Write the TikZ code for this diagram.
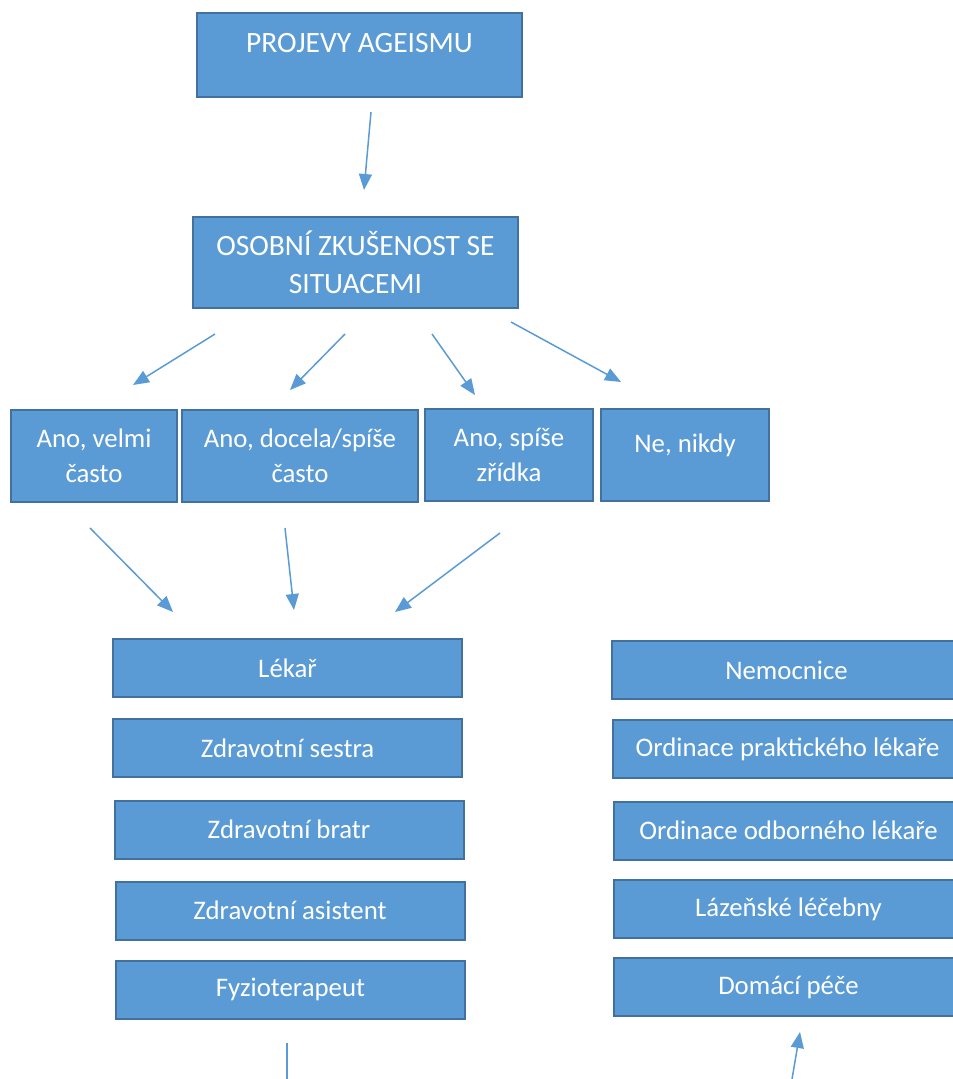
\documentclass[tikz,border=0pt]{standalone}
\usepackage{fontspec}
\setmainfont{Carlito}
\usetikzlibrary{arrows.meta}
\definecolor{boxfill}{HTML}{5B9BD5}
\definecolor{boxline}{HTML}{41719C}
\definecolor{arrowblue}{HTML}{5B9BD5}

\begin{document}
\begin{tikzpicture}[x=1pt, y=-1pt, >={Triangle[length=16pt,width=13pt]},
  box/.style={draw=boxline, fill=boxfill, line width=2pt, text=white, align=center,
              font=\fontsize{26.8}{35}\selectfont, inner sep=0pt},
  bigbox/.style={box, minimum width=325pt, font=\fontsize{29.5}{38}\selectfont},
  upper/.style={text height=20pt, text depth=26pt},
  rowbox/.style={box, minimum height=92pt},
  listbox/.style={box, minimum width=349pt, minimum height=58pt},
  arr/.style={->, draw=arrowblue, line width=1.5pt}]
  \clip (0,0) rectangle (953,1079);

  % 1. Top boxes
  \node[bigbox, upper, minimum height=84pt] (projevy) at (359.5,55) {PROJEVY AGEISMU};
  \node[bigbox, minimum height=91pt] (zkusenost) at (355.5,262)
    {OSOBNÍ ZKUŠENOST SE\\SITUACEMI};

  % 2. Answers
  \node[rowbox, minimum width=166pt] (velmi) at (94,456) {Ano, velmi\\často};
  \node[rowbox, minimum width=236pt] (docela) at (300,456) {Ano, docela/spíše\\často};
  \node[rowbox, minimum width=168pt] (zridka) at (509,455) {Ano, spíše\\zřídka};
  \node[rowbox, upper, minimum width=168pt] (nikdy) at (685,455) {Ne, nikdy};

  % 3. Persons (left) and places (right)
  \node[listbox] (lekar) at (287.5,668) {Lékař};
  \node[listbox] (sestra) at (287.5,748) {Zdravotní sestra};
  \node[listbox] (bratr) at (289,829.5) {Zdravotní bratr};
  \node[listbox] (asistent) at (290,910.5) {Zdravotní asistent};
  \node[listbox] (fyzio) at (290.5,989.5) {Fyzioterapeut};

  \node[listbox] (nemocnice) at (786.5,670) {Nemocnice};
  \node[listbox] (praktik) at (787.5,749) {Ordinace praktického lékaře};
  \node[listbox] (odbornik) at (788.5,830.5) {Ordinace odborného lékaře};
  \node[listbox] (lazne) at (788.5,909) {Lázeňské léčebny};
  \node[listbox] (domaci) at (788.5,987) {Domácí péče};

  % 4. Arrow ends
  \coordinate (a1s) at (371,112);  \coordinate (a1e) at (364,190);
  \coordinate (b1s) at (215,334);  \coordinate (b1e) at (133,385);
  \coordinate (b2s) at (345,334);  \coordinate (b2e) at (290,390);
  \coordinate (b3s) at (432,334);  \coordinate (b3e) at (475,395);
  \coordinate (b4s) at (511,322);  \coordinate (b4e) at (621,382);
  \coordinate (c1s) at (90,528);   \coordinate (c1e) at (173,612);
  \coordinate (c2s) at (285,528);  \coordinate (c2e) at (294,610);
  \coordinate (c3s) at (500,533);  \coordinate (c3e) at (395,612);
  \coordinate (d1s) at (287,1043); \coordinate (d1e) at (287,1085);
  \coordinate (d2s) at (791,1085); \coordinate (d2e) at (800,1032);

  % 5. Arrows
  \draw[arr] (a1s) -- (a1e);
  \foreach \i in {1,2,3,4} {\draw[arr] (b\i s) -- (b\i e);}
  \foreach \i in {1,2,3} {\draw[arr] (c\i s) -- (c\i e);}
  \draw[draw=arrowblue, line width=1.5pt] (d1s) -- (d1e);
  \draw[arr] (d2s) -- (d2e);
\end{tikzpicture}
\end{document}
